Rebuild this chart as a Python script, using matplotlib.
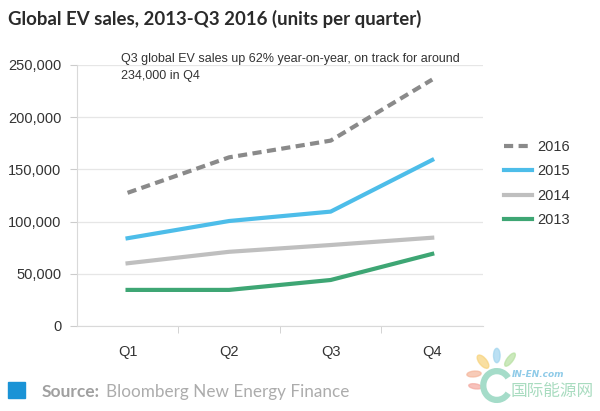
import matplotlib
matplotlib.use("Agg")
import matplotlib.pyplot as plt
from matplotlib.patches import Rectangle, Ellipse, Arc

# data (units per quarter)
quarters = ["Q1", "Q2", "Q3", "Q4"]
sales_2016 = [127500, 161500, 177500, 236000]
sales_2015 = [84000, 100500, 109500, 159000]
sales_2014 = [60000, 71000, 77500, 84500]
sales_2013 = [34500, 34500, 44000, 69000]
yticks = [0, 50000, 100000, 150000, 200000, 250000]

fig = plt.figure(figsize=(6, 4.11), dpi=100)
ax = fig.add_axes([0.128, 0.207, 0.677, 0.635])

xs = range(len(quarters))
ax.plot(xs, sales_2016, color="#8a8a8a", lw=3, ls=(0, (2.2, 1.3)), label="2016", solid_capstyle="butt")
ax.plot(xs, sales_2015, color="#4dbde9", lw=3, label="2015", solid_joinstyle="round")
ax.plot(xs, sales_2014, color="#bfbfbf", lw=3, label="2014", solid_joinstyle="round")
ax.plot(xs, sales_2013, color="#3ea674", lw=3, label="2013", solid_joinstyle="round")

ax.set_xlim(-0.5, 3.5)
ax.set_ylim(0, 250000)
ax.set_yticks(yticks)
ax.set_yticklabels([f"{v:,}" for v in yticks], fontsize=10.5, color="#333333", family="Liberation Sans")
ax.set_xticks(list(xs))
ax.set_xticklabels(quarters, fontsize=10.5, color="#333333", family="Liberation Sans")
ax.set_xticks([0.5, 1.5, 2.5], minor=True)
ax.tick_params(axis="x", which="major", length=0, pad=14)
ax.tick_params(axis="x", which="minor", length=5, color="#cccccc")
ax.tick_params(axis="y", length=5, color="#cccccc", pad=6)

ax.grid(axis="y", color="#e6e6e6", lw=0.9)
ax.set_axisbelow(True)
for s in ["top", "right"]:
    ax.spines[s].set_visible(False)
ax.spines["left"].set_color("#d9d9d9")
ax.spines["bottom"].set_color("#d9d9d9")

ax.text(-0.067, 261500, "Q3 global EV sales up 62% year-on-year, on track for around\n234,000 in Q4",
        fontsize=9.0, color="#333333", family="Liberation Sans",
        va="top", ha="left", linespacing=1.6, clip_on=False)

leg = fig.legend(loc="upper left", bbox_to_anchor=(0.818, 0.692), frameon=False,
                 prop={"family": "Liberation Sans", "size": 10.5}, handlelength=1.9,
                 handletextpad=0.4, labelspacing=0.72)
for t in leg.get_texts():
    t.set_color("#333333")

fig.text(0.013, 0.955, "Global EV sales, 2013-Q3 2016 (units per quarter)", fontsize=13.4,
         fontweight="bold", family="Lato", color="#2a2a2a", va="center")

# footer
fig.patches.append(Rectangle((0.013, 0.032), 0.028, 0.039, transform=fig.transFigure,
                             color="#1a93d6", figure=fig))
fig.text(0.07, 0.046, "Source:", fontsize=12.5, fontweight="bold", family="Lato",
         color="#a0a0a0", va="center")
fig.text(0.177, 0.046, "Bloomberg New Energy Finance", fontsize=12.3, family="Lato",
         color="#acacac", va="center")

# watermark
for (cx, cy, w, h, ang, c) in [(0.805, 0.12, 0.014, 0.035, 25, "#f7d27a"),
                               (0.828, 0.135, 0.011, 0.035, 0, "#9fd4ee"),
                               (0.85, 0.125, 0.011, 0.035, -25, "#b6e0a0"),
                               (0.79, 0.09, 0.024, 0.014, 10, "#f5b59a"),
                               (0.792, 0.06, 0.022, 0.012, -15, "#f4a9a0")]:
    fig.patches.append(Ellipse((cx, cy), w, h, angle=ang, color=c, alpha=0.7,
                               transform=fig.transFigure, figure=fig))
fig.patches.append(Arc((0.828, 0.062), 0.045, 0.07, theta1=45, theta2=315, lw=4.5,
                       color="#a5dcc9", transform=fig.transFigure, figure=fig))
fig.text(0.853, 0.088, "IN-EN.com", fontsize=6.5, fontweight="bold", style="italic",
         color="#8fcbe8", family="DejaVu Sans", va="center")
fig.text(0.851, 0.047, "国际能源网", fontsize=12, color="#a9dcc0", family="Noto Sans CJK SC", va="center")

fig.savefig("out.png", dpi=100)
